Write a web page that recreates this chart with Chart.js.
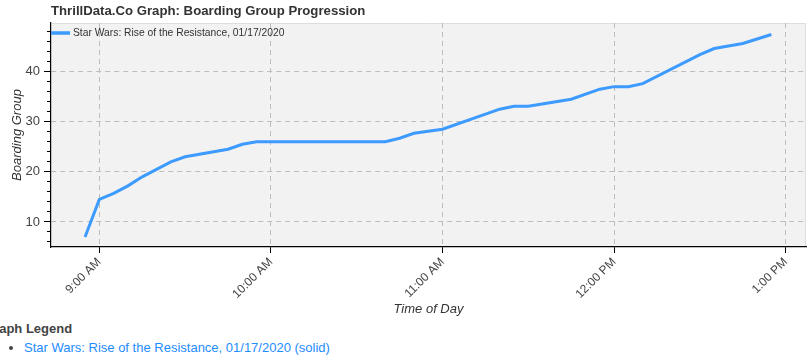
<!DOCTYPE html>
<html>
<head>
<meta charset="utf-8">
<script src="https://cdn.jsdelivr.net/npm/chart.js@4.4.1/dist/chart.umd.min.js"></script>
<style>
  body { margin: 0; background: #fff; width: 811px; height: 360px; overflow: hidden; position: relative;
         font-family: "Liberation Sans", Arial, sans-serif; }
  #chart { position: absolute; left: 0; top: 0; }
  #legendTitle { position: absolute; left: -16px; top: 321px; margin: 0; font-size: 13px; font-weight: bold; color: #444; }
  #legendList { position: absolute; left: 0; top: 340px; margin: 0; padding-left: 24px; font-size: 13px; color: #1e8cff; }
  #legendList li::marker { color: #444; }
</style>
</head>
<body>
<canvas id="chart" width="811" height="318"></canvas>
<div id="legendTitle">Graph Legend</div>
<ul id="legendList"><li>Star Wars: Rise of the Resistance, 01/17/2020 (solid)</li></ul>
<script>
const seriesName = "Star Wars: Rise of the Resistance, 01/17/2020";
const times = ["8:55", "9:00", "9:05", "9:10", "9:15", "9:25", "9:30", "9:45", "9:50", "9:55",
  "10:40", "10:45", "10:50", "11:00", "11:20", "11:25", "11:30", "11:45", "11:55",
  "12:00", "12:05", "12:10", "12:30", "12:35", "12:45", "12:55"];
const groups = [7, 14.5, 15.7, 17.2, 19, 22, 23, 24.5, 25.5, 26,
  26, 26.7, 27.7, 28.5, 32.5, 33.1, 33.1, 34.5, 36.5,
  37, 37, 37.6, 43.4, 44.6, 45.6, 47.4];
const hourTicks = [9, 10, 11, 12, 13];
const hourLabels = ["9:00 AM", "10:00 AM", "11:00 AM", "12:00 PM", "1:00 PM"];
const yMajor = [10, 20, 30, 40];
const yMinor = [6, 8, 12, 14, 16, 18, 22, 24, 26, 28, 32, 34, 36, 38, 42, 44, 46, 48];

const lineColor = "#3d9bff";

// minutes since midnight
const toMin = (t) => { const p = t.split(":"); return (+p[0]) * 60 + (+p[1]); };
const points = times.map((t, i) => ({ x: toMin(t), y: groups[i] }));

const decor = {
  id: "decor",
  beforeDraw(chart) {
    const { ctx, chartArea: a } = chart;
    ctx.save();
    ctx.fillStyle = "#f2f2f2";
    ctx.fillRect(a.left, a.top, a.right - a.left, a.bottom - a.top);
    ctx.strokeStyle = "#dedede";
    ctx.lineWidth = 1;
    ctx.beginPath();
    ctx.moveTo(a.left, a.top + 0.5);
    ctx.lineTo(a.right - 0.5, a.top + 0.5);
    ctx.lineTo(a.right - 0.5, a.bottom);
    ctx.stroke();
    ctx.restore();
  },
  afterDraw(chart) {
    const { ctx, chartArea: a } = chart;
    ctx.save();
    ctx.textBaseline = "middle";
    ctx.fillStyle = "#333";
    ctx.font = "bold 13.2px 'Liberation Sans', Arial, sans-serif";
    ctx.fillText("ThrillData.Co Graph: Boarding Group Progression", a.left, 11);
    // legend inside plot
    ctx.strokeStyle = lineColor;
    ctx.lineWidth = 3.5;
    ctx.beginPath();
    ctx.moveTo(a.left, a.top + 10);
    ctx.lineTo(a.left + 19, a.top + 10);
    ctx.stroke();
    ctx.font = "10.3px 'Liberation Sans', Arial, sans-serif";
    ctx.fillStyle = "#333";
    ctx.fillText(seriesName, a.left + 22, a.top + 10);
    ctx.restore();
  }
};

const gridColor = "#bdbdbd";

new Chart(document.getElementById("chart"), {
  type: "line",
  data: {
    datasets: [{
      label: seriesName,
      data: points,
      borderColor: lineColor,
      borderWidth: 3,
      pointRadius: 0,
      fill: false,
      tension: 0,
      yAxisID: "y"
    }]
  },
  options: {
    responsive: false,
    animation: false,
    devicePixelRatio: 1,
    layout: { padding: { top: 23, right: 5, left: 0, bottom: 0 } },
    plugins: { legend: { display: false }, title: { display: false }, tooltip: { enabled: false } },
    scales: {
      x: {
        type: "linear",
        min: 523.1,
        max: 787.1,
        afterBuildTicks: (s) => { s.ticks = hourTicks.map((h) => ({ value: h * 60 })); },
        afterFit: (s) => { s.height = 71; },
        ticks: {
          callback: (v, i) => hourLabels[i],
          minRotation: 45, maxRotation: 45,
          color: "#444",
          padding: 2,
          font: { family: "'Liberation Sans', Arial, sans-serif", size: 12 }
        },
        grid: { color: gridColor, tickColor: "#000", tickLength: 6 },
        border: { color: "#000", width: 1.2, dash: [5, 4] },
        title: {
          display: true, text: "Time of Day", color: "#333",
          font: { family: "'Liberation Sans', Arial, sans-serif", size: 13, style: "italic" },
          padding: { top: 0, bottom: 1 }
        }
      },
      y: {
        type: "linear",
        position: "left",
        weight: 1,
        min: 5,
        max: 49.7,
        afterBuildTicks: (s) => { s.ticks = yMajor.map((v) => ({ value: v })); },
        afterFit: (s) => { s.width = 51; },
        ticks: {
          color: "#444",
          padding: 4,
          font: { family: "'Liberation Sans', Arial, sans-serif", size: 13 }
        },
        grid: { color: gridColor, tickColor: "#000", tickLength: 7 },
        border: { color: "#000", width: 1.2, dash: [5, 4] },
        title: {
          display: true, text: "Boarding Group", color: "#333",
          font: { family: "'Liberation Sans', Arial, sans-serif", size: 13, style: "italic" },
          padding: { top: 10, bottom: 0 }
        }
      },
      yMinor: {
        type: "linear",
        position: "left",
        weight: 0,
        min: 5,
        max: 49.7,
        afterBuildTicks: (s) => { s.ticks = yMinor.map((v) => ({ value: v })); },
        afterFit: (s) => { s.width = 0; },
        ticks: { display: false },
        grid: { drawOnChartArea: false, tickColor: "#000", tickLength: 4 },
        border: { display: false }
      }
    }
  },
  plugins: [decor]
});
</script>
</body>
</html>
